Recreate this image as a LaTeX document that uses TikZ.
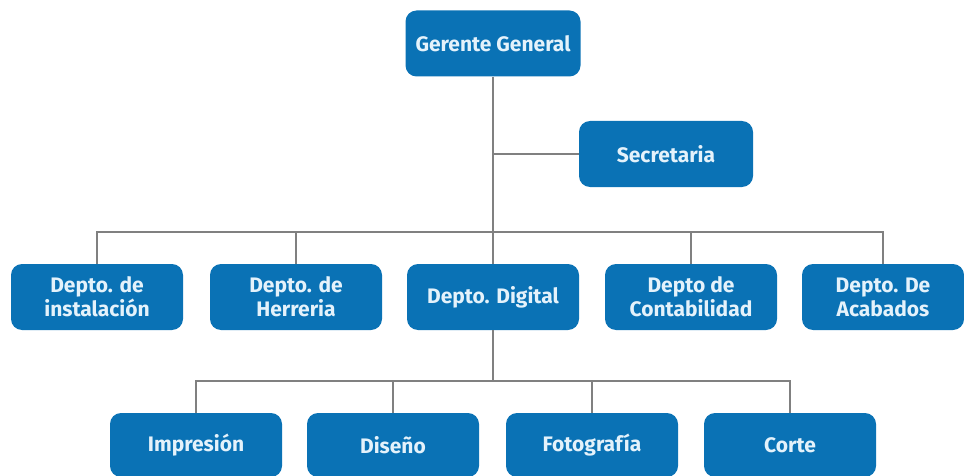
\documentclass[tikz,border=0pt]{standalone}
\usepackage{fontspec}
\setsansfont{Fira Sans}
\usetikzlibrary{positioning}
\definecolor{cajaazul}{RGB}{10,114,181}
\definecolor{textoclaro}{RGB}{228,242,251}
\definecolor{lineagris}{RGB}{128,128,128}

\begin{document}
\begin{tikzpicture}[x=1pt, y=-1pt,
    caja/.style={fill=cajaazul, rounded corners=11pt, minimum width=172pt, minimum height=66pt,
        text=textoclaro, align=center, inner sep=2pt,
        font=\sffamily\bfseries\fontsize{21}{24}\selectfont},
    enlace/.style={draw=lineagris, line width=1.4pt}
]
    \useasboundingbox (0,0) rectangle (964,476);
    % Direccion
    \node[caja, minimum width=175pt] (gerente) at (493,43.5) {Gerente General};
    \node[caja, minimum width=174pt] (secre) at (666,154) {Secretaria};
    % Departamentos
    \node[caja] (inst) at (97,297) {Depto. de\\instalación};
    \node[caja] (herr) at (296,297) {Depto. de\\Herreria};
    \node[caja] (digi) at (493,297) {Depto. Digital};
    \node[caja] (conta) at (691,297) {Depto de\\Contabilidad};
    \node[caja, minimum width=162pt] (acab) at (883,297) {Depto. De\\Acabados};
    % Areas del depto. digital
    \node[caja, minimum height=64pt] (impr) at (196,445) {Impresión};
    \node[caja, minimum height=64pt] (dise) at (393,445) {Diseño};
    \node[caja, minimum height=64pt] (foto) at (592,445) {Fotografía};
    \node[caja, minimum height=64pt] (corte) at (790,445) {Corte};
    % Lineas
    \coordinate (barra1) at (493,232);
    \coordinate (barra2) at (493,381);
    \draw[enlace] (gerente) -- (digi);
    \draw[enlace] (secre.west) -- (secre.west -| gerente);
    \foreach \n in {inst,herr,conta,acab}
        \draw[enlace] (\n.north) |- (barra1);
    \draw[enlace] (digi.south) -- (barra2);
    \foreach \n in {impr,dise,foto,corte}
        \draw[enlace] (\n.north) |- (barra2);
\end{tikzpicture}
\end{document}
